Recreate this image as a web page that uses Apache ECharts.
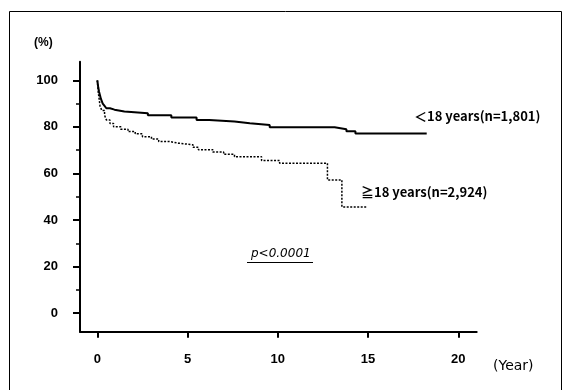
<!DOCTYPE html>
<html>
<head>
<meta charset="utf-8">
<script src="https://cdn.jsdelivr.net/npm/echarts@6/dist/echarts.min.js"></script>
<style>
  html, body { margin: 0; padding: 0; background: #fff; }
  #chart { width: 566px; height: 390px; }
</style>
</head>
<body>
<div id="chart"></div>
<script>
// Kaplan-Meier style survival curves by age group
const xTicks = [0, 5, 10, 15, 20];
const yTicks = [0, 20, 40, 60, 80, 100];
const yMinorTicks = [10, 30, 50, 70, 90];

const groupNames = ['＜18 years(n=1,801)', '≧18 years(n=2,924)'];
const pText = 'p<0.0001';

// [year, survival %] — value holds from that year onward
const under18 = [
  [0, 100], [0.05, 97], [0.1, 95], [0.15, 93.5], [0.2, 92], [0.3, 90],
  [0.4, 89], [0.5, 88], [0.7, 87.4], [0.95, 86.6], [1.5, 85.9], [2.8, 85],
  [4.1, 84], [5.5, 83], [6.2, 82.3], [7.6, 81.6], [8.45, 80.8], [9.55, 79.8],
  [13.15, 79.0], [13.8, 78.1], [14.3, 77.2], [18.25, 77.2]
];
const over18 = [
  [0, 100], [0.05, 95], [0.1, 92], [0.15, 89], [0.25, 87], [0.4, 85],
  [0.5, 83], [0.7, 81.5], [0.9, 80], [1.3, 79], [1.7, 78], [2.1, 77],
  [2.5, 75.8], [3.0, 74.8], [3.4, 73.7], [4.0, 73], [4.5, 72.3], [5.3, 71.2],
  [5.6, 70.2], [6.4, 69.2], [7.0, 68.2], [7.6, 67.2], [9.1, 65.5],
  [10.1, 64.4], [12.75, 57.2], [13.55, 45.6], [14.9, 45.6]
];

// axis lines run a little past the labelled range
const X_MIN = -0.96, X_MAX = 21.02, Y_MIN = -8, Y_MAX = 108;

const chart = echarts.init(document.getElementById('chart'));
const labelFont = { color: '#000', fontFamily: 'Liberation Sans', fontWeight: 'bold', fontSize: 13 };
const axisStroke = { color: '#000', width: 2 };

chart.setOption({
  animation: false,
  backgroundColor: '#fff',
  grid: { left: 80, right: 89.3, top: 61.7, bottom: 58.3 },
  xAxis: {
    type: 'value', min: X_MIN, max: X_MAX,
    axisLine: { show: true, onZero: false, lineStyle: axisStroke },
    axisTick: { show: true, length: 6, customValues: xTicks, lineStyle: { color: '#000', width: 2 } },
    axisLabel: Object.assign({ customValues: xTicks, margin: 21 }, labelFont),
    splitLine: { show: false }
  },
  yAxis: [{
    type: 'value', min: Y_MIN, max: Y_MAX,
    axisLine: { show: true, onZero: false, lineStyle: axisStroke },
    axisTick: { show: true, length: 7, customValues: yTicks, lineStyle: { color: '#000', width: 2 } },
    axisLabel: Object.assign({ customValues: yTicks, margin: 22 }, labelFont),
    splitLine: { show: false }
  }, {
    // short intermediate ticks on the same left edge
    type: 'value', min: Y_MIN, max: Y_MAX, position: 'left',
    axisLine: { show: false, onZero: false },
    axisTick: { show: true, length: 4, customValues: yMinorTicks, lineStyle: { color: '#000', width: 1.5 } },
    axisLabel: { show: false },
    splitLine: { show: false }
  }],
  series: [{
    name: groupNames[0], type: 'line', step: 'end', data: under18,
    showSymbol: false, lineStyle: { color: '#000', width: 2 }
  }, {
    name: groupNames[1], type: 'line', step: 'end', data: over18,
    showSymbol: false, lineStyle: { color: '#000', width: 1.5, type: [2, 1.5] }
  }],
  graphic: [
    { type: 'rect', shape: { x: 9.5, y: 11.5, width: 552, height: 400 },
      style: { fill: 'none', stroke: '#000', lineWidth: 1 } },
    { type: 'text', left: 34, top: 37, style: { text: '(%)', fill: '#000', font: 'bold 12px "Liberation Sans"' } },
    { type: 'text', left: 493, top: 359, style: { text: '(Year)', fill: '#000', font: '14px "DejaVu Sans"' } },
    { type: 'text', left: 414, top: 110, style: { text: groupNames[0], fill: '#000', font: 'bold 13px "Noto Sans CJK JP"' } },
    { type: 'text', left: 361, top: 186, style: { text: groupNames[1], fill: '#000', font: 'bold 13px "Noto Sans CJK JP"' } },
    { type: 'text', left: 251, top: 248, style: { text: pText, fill: '#000', font: 'italic 12px "DejaVu Sans"' } },
    { type: 'line', shape: { x1: 247, y1: 262.5, x2: 313, y2: 262.5 }, style: { stroke: '#000', lineWidth: 1 } }
  ]
});
</script>
</body>
</html>
